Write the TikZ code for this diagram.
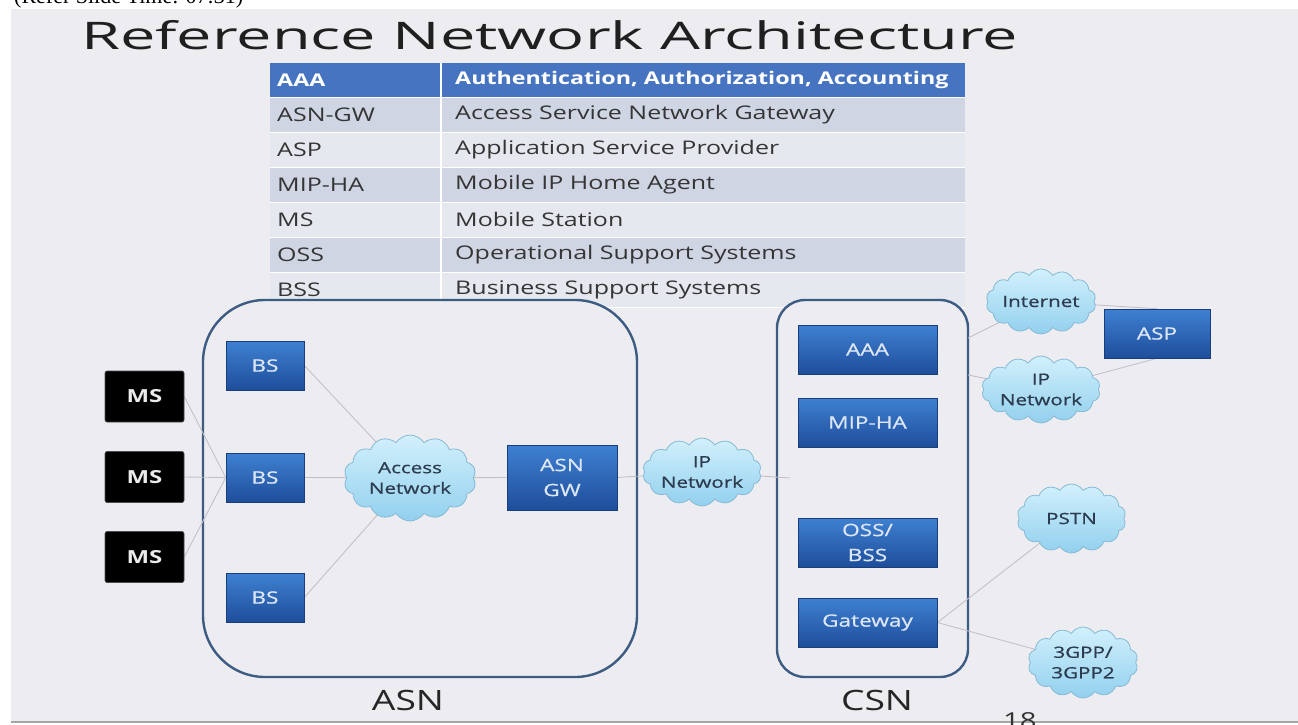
\documentclass[tikz,border=0pt]{standalone}
\usepackage{fontspec}
\setmainfont{Open Sans}[FakeStretch=1.33]
\newfontfamily\titlefont{Open Sans}[FakeStretch=1.66]
\newfontfamily\heavyfont{Open Sans}[FakeStretch=1.33, FakeBold=0.8]
\newfontfamily\capfont{Liberation Serif}
\usetikzlibrary{shapes.symbols}
\definecolor{slidebg}{HTML}{EDEDF1}
\definecolor{hdrblue}{HTML}{4674C0}
\definecolor{rowdark}{HTML}{CFD5E3}
\definecolor{rowlight}{HTML}{E6E8EF}
\definecolor{boxline}{HTML}{3D5C84}
\definecolor{btop}{HTML}{3F80D2}
\definecolor{bbot}{HTML}{1E4E9A}
\definecolor{btext}{HTML}{DCE6F4}
\definecolor{ctop}{HTML}{D2F0FC}
\definecolor{cbot}{HTML}{92D0EE}
\definecolor{cline}{HTML}{86BAD6}
\definecolor{ctext}{HTML}{2C3B4E}
\definecolor{wire}{HTML}{C6BFC8}
\definecolor{ttext}{HTML}{353535}
\pgfdeclarelayer{bg}
\pgfdeclarelayer{edges}
\pgfsetlayers{bg,edges,main}
\tikzset{
  bluebox/.style={rectangle, top color=btop, bottom color=bbot, draw=bbot!80!black, line width=0.6pt,
    text=btext, align=center, inner sep=0pt, font=\heavyfont\fontsize{17}{25}\selectfont},
  msbox/.style={rectangle, fill=black, draw=black!70, line width=0.6pt, rounded corners=2pt,
    text=white!92!black, minimum width=79pt, minimum height=51pt, inner sep=0pt,
    font=\fontsize{18}{20}\selectfont\bfseries},
  netcloud/.style={cloud, cloud puffs=14, cloud puff arc=115, cloud ignores aspect,
    top color=ctop, bottom color=cbot, draw=cline, line width=0.8pt, text=ctext,
    align=center, inner sep=0pt, font=\heavyfont\fontsize{15.5}{20.5}\selectfont},
  wireline/.style={draw=wire, line width=0.9pt},
  region/.style={draw=boxline, line width=2.4pt, fill=slidebg},
  celltext/.style={anchor=west, inner sep=0pt, text=ttext, font=\fontsize{18.8}{20}\selectfont},
  hdrtext/.style={anchor=west, inner sep=0pt, text=white, font=\fontsize{17.5}{20}\selectfont\bfseries},
  biglabel/.style={inner sep=0pt, text=black!85, font=\fontsize{28}{30}\selectfont}
}
\begin{document}
\begin{tikzpicture}[x=1pt,y=-1pt]
\useasboundingbox (0,0) rectangle (1298,725);
\clip (0,0) rectangle (1298,725);
\begin{pgfonlayer}{bg}
  \fill[white] (0,0) rectangle (1298,725);
  \fill[slidebg] (11,9) rectangle (1298,721);
  \fill[black!35] (11,721) rectangle (1298,722.5);
  % table
  \fill[hdrblue] (270,63) rectangle (965,97);
  \foreach \r/\c in {0/rowdark,1/rowlight,2/rowdark,3/rowlight,4/rowdark,5/rowlight}{
    \fill[\c] (270,{97+35*\r}) rectangle (965,{132+35*\r});
  }
  \foreach \r in {0,...,6}{
    \draw[white, line width=1pt] (270,{97+35*\r}) -- (965,{97+35*\r});
  }
  \draw[white, line width=2pt] (441,63) -- (441,307);
  % regions
  \draw[region, rounded corners=62pt] (203,300) rectangle (637,677);
  \draw[region, rounded corners=28pt] (777,300) rectangle (968,677);
\end{pgfonlayer}

% top cut caption
\node[anchor=base west, inner sep=0pt, font=\capfont\fontsize{22}{24}\selectfont] (cap) at (14,4) {(Refer Slide Time: 07:31)};
% title
\node[anchor=base west, inner sep=0pt, text=black!88, font=\titlefont\fontsize{38}{40}\selectfont] (title) at (81,50) {Reference Network Architecture};

% table text
\node[hdrtext] (h1) at (277,80) {AAA};
\node[hdrtext] (h2) at (455,80) {Authentication, Authorization, Accounting};
\foreach \i/\a/\b in {1/ASN-GW/Access Service Network Gateway,
                      2/ASP/Application Service Provider,
                      3/MIP-HA/Mobile IP Home Agent,
                      4/MS/Mobile Station,
                      5/OSS/Operational Support Systems,
                      6/BSS/Business Support Systems}{
  \node[celltext] (ta\i) at (277,{79.5+35*\i}) {\a};
  \node[celltext] (tb\i) at (455,{79.5+35*\i}) {\b};
}

% ASN side
\node[msbox] (ms1) at (144.5,396.5) {MS};
\node[msbox] (ms2) at (144.5,477) {MS};
\node[msbox] (ms3) at (144.5,557) {MS};
\node[bluebox, minimum width=78pt, minimum height=49pt] (bs1) at (265,365.5) {BS};
\node[bluebox, minimum width=78pt, minimum height=49pt] (bs2) at (265,477.5) {BS};
\node[bluebox, minimum width=78pt, minimum height=49pt] (bs3) at (265,597.5) {BS};
\node[netcloud, minimum width=132pt, minimum height=86pt] (acc) at (410,478) {Access\\Network};
\node[bluebox, minimum width=110pt, minimum height=65pt] (asngw) at (562,477.5) {ASN\\GW};
\node[netcloud, minimum width=112pt, minimum height=68pt] (ipn) at (702,472) {IP\\Network};
\coordinate (csnin) at (790,478);

% CSN side
\node[bluebox, minimum width=139pt, minimum height=49pt] (aaa) at (867.5,349.5) {AAA};
\node[bluebox, minimum width=139pt, minimum height=49pt] (mip) at (867.5,422.5) {MIP-HA};
\node[bluebox, minimum width=139pt, minimum height=49pt] (oss) at (867.5,542.5) {OSS/\\BSS};
\node[bluebox, minimum width=139pt, minimum height=49pt] (gw) at (867.5,622.5) {Gateway};
\node[netcloud, minimum width=110pt, minimum height=65pt] (inet) at (1041,301.5) {Internet};
\node[netcloud, minimum width=110pt, minimum height=67pt] (ipn2) at (1041,389.5) {IP\\Network};
\node[bluebox, minimum width=106pt, minimum height=49pt] (asp) at (1157,333.5) {ASP};
\node[netcloud, minimum width=109pt, minimum height=69pt] (pstn) at (1071.5,518.5) {PSTN};
\node[netcloud, minimum width=110pt, minimum height=71pt] (tgpp) at (1083,662.5) {3GPP/\\3GPP2};
\coordinate (csnA) at (968,338);
\coordinate (csnB) at (968,375);

% labels
\node[biglabel] (asnlab) at (408,700) {ASN};
\node[biglabel] (csnlab) at (877,700) {CSN};
\node[anchor=base west, inner sep=0pt, text=black!80, font=\fontsize{22}{24}\selectfont] (pg) at (1003,728) {18};

\begin{pgfonlayer}{edges}
  \draw[wireline] (ms1.east) -- (bs2.west);
  \draw[wireline] (ms2.east) -- (bs2.west);
  \draw[wireline] (ms3.east) -- (bs2.west);
  \draw[wireline] (bs1.east) -- (acc.center);
  \draw[wireline] (bs2.east) -- (acc.center);
  \draw[wireline] (bs3.east) -- (acc.center);
  \draw[wireline] (acc.center) -- (asngw.west);
  \draw[wireline] (asngw.east) -- (ipn.center);
  \draw[wireline] (ipn.center) -- (csnin);
  \draw[wireline] (csnA) -- (inet.center);
  \draw[wireline] (csnB) -- (ipn2.center);
  \draw[wireline] (inet.center) -- (asp.north);
  \draw[wireline] (ipn2.center) -- (asp.south);
  \draw[wireline] (gw.east) -- (pstn.center);
  \draw[wireline] (gw.east) -- (tgpp.center);
\end{pgfonlayer}
\end{tikzpicture}
\end{document}
